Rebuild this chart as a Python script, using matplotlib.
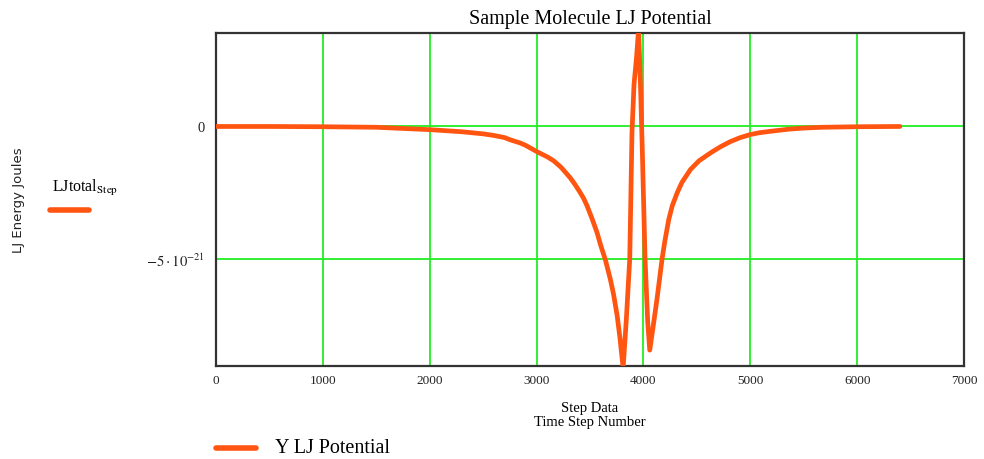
# LJ potential along time step -- recreated plot
import matplotlib
matplotlib.use('Agg')
from matplotlib import pyplot as plt
from matplotlib.lines import Line2D
from numpy import array

plt.rcParams['font.family'] = ['Liberation Serif', 'DejaVu Serif']
plt.rcParams['mathtext.fontset'] = 'stix'

# --- data: step number, LJ energy (x 1e-21 J) ---
step = [0, 500, 1000, 1500, 2000, 2300, 2500, 2600, 2700, 2750, 2850,
        2900, 3010, 3100, 3160, 3230, 3316, 3360, 3400, 3440, 3472,
        3520, 3566, 3600, 3644, 3691, 3720, 3754, 3780, 3810, 3840,
        3872, 3893, 3912, 3935, 3955, 3975, 3990, 4015, 4040, 4059,
        4090, 4128, 4175, 4200, 4237, 4270, 4316, 4360, 4440, 4520,
        4628, 4720, 4815, 4900, 4996, 5080, 5174, 5364, 5500, 5673,
        6000, 6400]
ljtotal = [0., 0., -0.01, -0.03, -0.12, -0.2, -0.28, -0.34, -0.42, -0.5, -0.63,
           -0.72, -0.97, -1.15, -1.3, -1.55, -1.95, -2.2, -2.45, -2.72, -3.0,
           -3.5, -4.02, -4.5, -5.05, -5.8, -6.35, -7.16, -8.0, -9.15, -7.3,
           -5.0, -0.2, 1.6, 2.6, 3.7, 1.2, -1.0, -5.0, -7.4, -8.47,
           -7.6, -6.5, -5.0, -4.35, -3.52, -3.0, -2.51, -2.12, -1.63, -1.3,
           -1.0, -0.77, -0.57, -0.43, -0.31, -0.24, -0.19, -0.1, -0.06, -0.03,
           -0.01, 0.]
xticks = [0, 1000, 2000, 3000, 4000, 5000, 6000, 7000]
yticks = [0., -5e-21]
ytick_labels = ['0', r'$-5\cdot10^{-21}$']

step = array(step)
ljtotal = array(ljtotal) * 1e-21

# --- drawing ---
fig = plt.figure(figsize=(9.84, 4.6), dpi=100)
ax = fig.add_axes([0.2195, 0.2022, 0.7602, 0.7239])

ax.plot(step, ljtotal, color='#ff5511', linewidth=3.4,
        solid_capstyle='round', solid_joinstyle='round', zorder=3)

ax.set_xlim(0, 7000)
ax.set_ylim(-9.07e-21, 3.54e-21)
ax.set_xticks(xticks)
ax.set_yticks(yticks)
ax.set_yticklabels(ytick_labels)
ax.tick_params(axis='x', length=0, labelsize=9.5, pad=6, colors='#222222')
ax.tick_params(axis='y', length=0, labelsize=10.5, pad=8, colors='#222222')
ax.grid(True, color='#22ee22', linewidth=1.3)
for sp in ax.spines.values():
    sp.set_linewidth(1.6)
    sp.set_color('#333333')

ax.set_title('Sample Molecule LJ Potential', fontsize=14.5, pad=7)

fig.text(0.5995, 0.112, 'Step Data', fontsize=10.5, ha='center', va='center')
fig.text(0.5995, 0.082, 'Time Step Number', fontsize=10.5, ha='center', va='center')

fig.text(0.019, 0.565, 'LJ Energy Joules', family='DejaVu Sans', fontsize=9.5,
         rotation=90, ha='center', va='center', color='#222222')

# legend-like labels
fig.text(0.053, 0.592, r'LJtotal$_{\mathrm{Step}}$', fontsize=11.5, va='center')
fig.add_artist(Line2D([0.051, 0.090], [0.541, 0.541], transform=fig.transFigure,
                      color='#ff5511', linewidth=4, solid_capstyle='round'))
fig.add_artist(Line2D([0.220, 0.260], [0.024, 0.024], transform=fig.transFigure,
                      color='#ff5511', linewidth=4, solid_capstyle='round'))
fig.text(0.279, 0.024, 'Y LJ Potential', fontsize=14.5, va='center')

fig.savefig('out.png', dpi=100)
